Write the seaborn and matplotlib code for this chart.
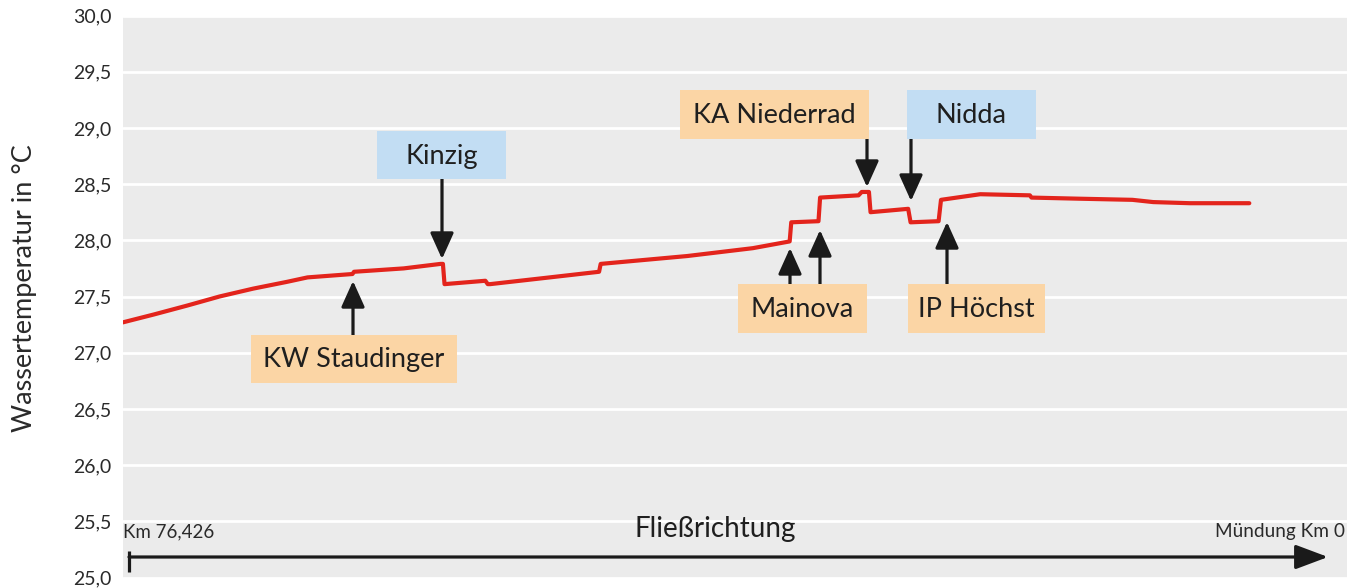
import numpy as np
import pandas as pd
import seaborn as sns
import matplotlib.pyplot as plt
from matplotlib.patches import Rectangle

# River kilometre (Main, flowing towards km 0) and measured water temperature
km = [76.43, 74.5, 72.4, 70.4, 68.3, 66.2, 64.9, 62.1, 62.0, 58.9, 56.6, 56.45,
      56.35, 53.8, 53.65, 53.5, 50.4, 46.7, 46.6, 41.2, 37.1, 34.8, 34.7, 33.0,
      32.9, 30.5, 30.3, 29.85, 29.75, 27.4, 27.25, 25.5, 25.35, 22.9, 19.8,
      19.7, 16.7, 13.4, 12.1, 9.8, 6.1]
temp = [27.27, 27.34, 27.42, 27.50, 27.57, 27.63, 27.67, 27.70, 27.72, 27.75,
        27.79, 27.79, 27.61, 27.64, 27.61, 27.61, 27.66, 27.72, 27.79, 27.86,
        27.93, 27.99, 28.16, 28.17, 28.38, 28.40, 28.43, 28.43, 28.25, 28.28,
        28.16, 28.17, 28.36, 28.41, 28.40, 28.38, 28.37, 28.36, 28.34, 28.33,
        28.33]

yticks = [25.0, 25.5, 26.0, 26.5, 27.0, 27.5, 28.0, 28.5, 29.0, 29.5, 30.0]
ytick_labels = [f"{v:.1f}".replace(".", ",") for v in yticks]

labels = ["Kinzig", "KW Staudinger", "Mainova", "KA Niederrad", "Nidda", "IP Höchst"]

sns.set_theme(style="darkgrid")
plt.rcParams["font.family"] = ["Lato", "DejaVu Sans"]

W, H = 1354, 588
fig = plt.figure(figsize=(W / 100, H / 100), dpi=100)
fig.patch.set_facecolor("white")
ax = fig.add_axes([123 / W, 1 - 577.5 / H, (1347 - 123) / W, (577.5 - 15.5) / H])

df = pd.DataFrame({"km": km, "temp": temp})
sns.lineplot(data=df, x="km", y="temp", ax=ax, color="#e3241c", lw=3,
             sort=False, estimator=None)

ax.set_xlim(76.426, 0)
ax.set_ylim(25, 30)
ax.set_facecolor("#ebebeb")
ax.set_yticks(yticks)
ax.set_yticklabels(ytick_labels)
ax.set_xticks([])
ax.grid(axis="y", color="white", lw=2)
ax.grid(axis="x", visible=False)
for s in ax.spines.values():
    s.set_visible(False)
ax.tick_params(axis="y", length=0, pad=8.5, labelsize=14, labelcolor="#2a2a2a")
ax.set_xlabel("")
ax.set_ylabel("")

fig.text(25 / W, 1 - 288 / H, "Wassertemperatur in °C", rotation=90,
         ha="center", va="center", fontsize=19.5, color="#2a2a2a")

ORANGE = "#fbd5a5"
BLUE = "#c2ddf3"
TXT = "#1f1f1f"


def fx(x):
    return x / W


def fy(y):
    return 1 - y / H


def box(x0, y0, x1, y1, text, color):
    fig.patches.append(Rectangle((fx(x0), fy(y1)), fx(x1) - fx(x0), fy(y0) - fy(y1),
                                 transform=fig.transFigure, facecolor=color,
                                 edgecolor="none", zorder=3))
    fig.text(fx((x0 + x1) / 2), fy((y0 + y1) / 2 + 1), text, ha="center", va="center",
             fontsize=19.5, color=TXT, zorder=4)


def px2km(x):
    return 76.426 - (x - 123) * 76.426 / 1224


def py2t(y):
    return 30 - (y - 15.5) / 112.4


def arrow(x, yb, yt):
    k = px2km(x)
    ax.annotate("", xy=(k, py2t(yt)), xytext=(k, py2t(yb)), xycoords="data",
                arrowprops=dict(arrowstyle="-|>,head_length=1.6,head_width=0.72",
                                mutation_scale=10, lw=2.3, color="#1a1a1a",
                                shrinkA=0, shrinkB=0), zorder=5)


box(377, 131, 506, 179, labels[0], BLUE)
arrow(442, 179, 259)
box(251, 335, 457, 383, labels[1], ORANGE)
arrow(353, 335, 281)
box(738, 284, 867, 333, labels[2], ORANGE)
arrow(790, 284, 248)
arrow(820, 284, 230)
box(680, 90, 869, 139, labels[3], ORANGE)
arrow(867, 139, 187)
box(907, 90, 1036, 139, labels[4], BLUE)
arrow(911, 139, 201)
box(908, 284, 1045, 333, labels[5], ORANGE)
arrow(947, 284, 222)

# flow direction arrow
ax.annotate("", xy=(px2km(1328), py2t(557)), xytext=(px2km(129), py2t(557)),
            arrowprops=dict(arrowstyle="-|>,head_length=2.0,head_width=0.75",
                            mutation_scale=10, lw=2.3, color="#1a1a1a",
                            shrinkA=0, shrinkB=0), annotation_clip=False)
ax.plot([px2km(129), px2km(129)], [py2t(551), py2t(572)], color="#1a1a1a", lw=2.3,
        solid_capstyle="butt", clip_on=False)
fig.text(fx(715), fy(529), "Fließrichtung", ha="center", va="center",
         fontsize=20, color=TXT)
fig.text(fx(123), fy(532), "Km 76,426", ha="left", va="center", fontsize=13.5,
         color="#2a2a2a")
fig.text(fx(1345), fy(532), "Mündung Km 0", ha="right", va="center", fontsize=13.7,
         color="#2a2a2a")

fig.savefig("out.png", dpi=100)
